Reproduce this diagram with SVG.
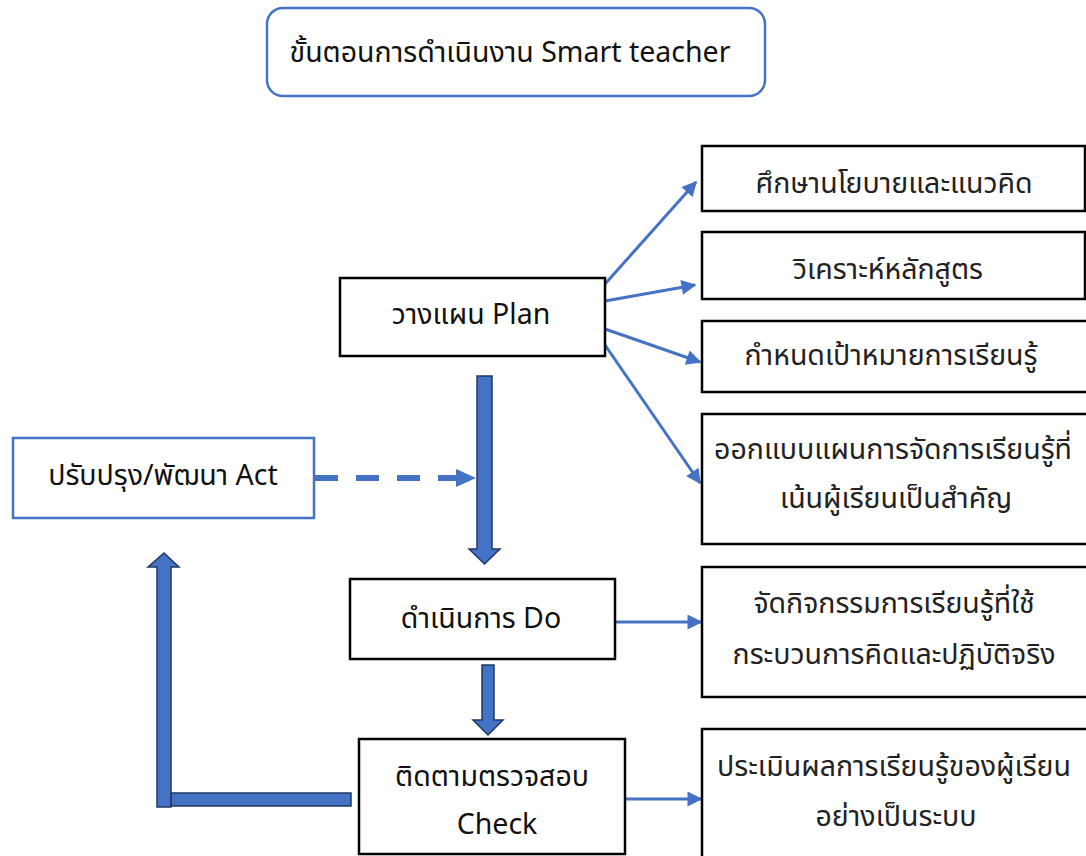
<svg xmlns="http://www.w3.org/2000/svg" width="1086" height="856" viewBox="0 0 1086 856">
<defs>
<style>
.t{font-family:"Noto Sans","Noto Sans Thai","DejaVu Sans",sans-serif;font-size:28.5px;fill:#111;text-anchor:middle}
.r{fill:#222}
.box{fill:#fff;stroke:#000;stroke-width:2.5}
.bbox{fill:#fff;stroke:#4472C4;stroke-width:2.5}
.ln{stroke:#4472C4;stroke-width:3;fill:none}
.blk{fill:#4472C4;stroke:#1F3864;stroke-width:1.5}
</style>
<marker id="ah" viewBox="0 0 10 10" refX="9" refY="5" markerWidth="5.5" markerHeight="5" markerUnits="strokeWidth" orient="auto">
<path d="M0,0 L10,5 L0,10 z" fill="#4472C4"/>
</marker>
</defs>
<rect width="1086" height="856" fill="#fff"/>
<g id="title">
<rect x="267" y="8" width="498" height="88" rx="16" class="bbox"/>
<text class="t" x="510" y="62">ขั้นตอนการดำเนินงาน Smart teacher</text>
</g>
<g id="connectors">
<line class="ln" x1="605" y1="284" x2="696" y2="182" marker-end="url(#ah)"/>
<line class="ln" x1="605" y1="301" x2="695" y2="285" marker-end="url(#ah)"/>
<line class="ln" x1="605" y1="329" x2="700" y2="362" marker-end="url(#ah)"/>
<line class="ln" x1="605" y1="345" x2="700" y2="483" marker-end="url(#ah)"/>
<line class="ln" x1="616" y1="622" x2="701" y2="622" marker-end="url(#ah)"/>
<line class="ln" x1="626" y1="799" x2="701" y2="799" marker-end="url(#ah)"/>
<line x1="315" y1="478" x2="458" y2="478" stroke="#4472C4" stroke-width="6" stroke-dasharray="23,18"/>
<path d="M456,469 L476,478 L456,487 z" fill="#4472C4"/>
<path class="blk" d="M477,376 L492,376 L492,549 L500,549 L484.5,564 L469,549 L477,549 z"/>
<path class="blk" d="M482,665 L494,665 L494,720 L503,720 L488,735 L473,720 L482,720 z"/>
<path class="blk" d="M171,793 L351,793 L351,806 L171,806 z"/>
<path class="blk" d="M157,807 L157,567 L148,567 L164,553 L179,567 L171,567 L171,807 z"/>
</g>
<g id="plan">
<rect x="340" y="278" width="265" height="78" class="box"/>
<text class="t" x="471" y="324">วางแผน Plan</text>
</g>
<g id="act">
<rect x="13" y="438" width="301" height="80" class="bbox"/>
<text class="t" x="163" y="485">ปรับปรุง/พัฒนา Act</text>
</g>
<g id="do">
<rect x="350" y="579" width="265" height="80" class="box"/>
<text class="t" x="481" y="628">ดำเนินการ Do</text>
</g>
<g id="check">
<rect x="359" y="739" width="266" height="115" class="box"/>
<text class="t" x="492" y="786">ติดตามตรวจสอบ</text>
<text class="t" x="497" y="834">Check</text>
</g>
<g id="r1">
<rect x="702" y="146" width="383" height="65" class="box"/>
<text class="t r" x="894" y="193">ศึกษานโยบายและแนวคิด</text>
</g>
<g id="r2">
<rect x="702" y="232" width="383" height="67" class="box"/>
<text class="t r" x="888" y="279">วิเคราะห์หลักสูตร</text>
</g>
<g id="r3">
<rect x="702" y="321" width="390" height="71" class="box"/>
<text class="t r" x="891" y="365">กำหนดเป้าหมายการเรียนรู้</text>
</g>
<g id="r4">
<rect x="702" y="414" width="390" height="130" class="box"/>
<text class="t r" x="893" y="459">ออกแบบแผนการจัดการเรียนรู้ที่</text>
<text class="t r" x="896" y="508">เน้นผู้เรียนเป็นสำคัญ</text>
</g>
<g id="r5">
<rect x="702" y="567" width="390" height="130" class="box"/>
<text class="t r" x="894" y="613">จัดกิจกรรมการเรียนรู้ที่ใช้</text>
<text class="t r" x="894" y="664">กระบวนการคิดและปฏิบัติจริง</text>
</g>
<g id="r6">
<rect x="702" y="729" width="390" height="140" class="box"/>
<text class="t r" x="894" y="776">ประเมินผลการเรียนรู้ของผู้เรียน</text>
<text class="t r" x="896" y="826">อย่างเป็นระบบ</text>
</g>
</svg>
